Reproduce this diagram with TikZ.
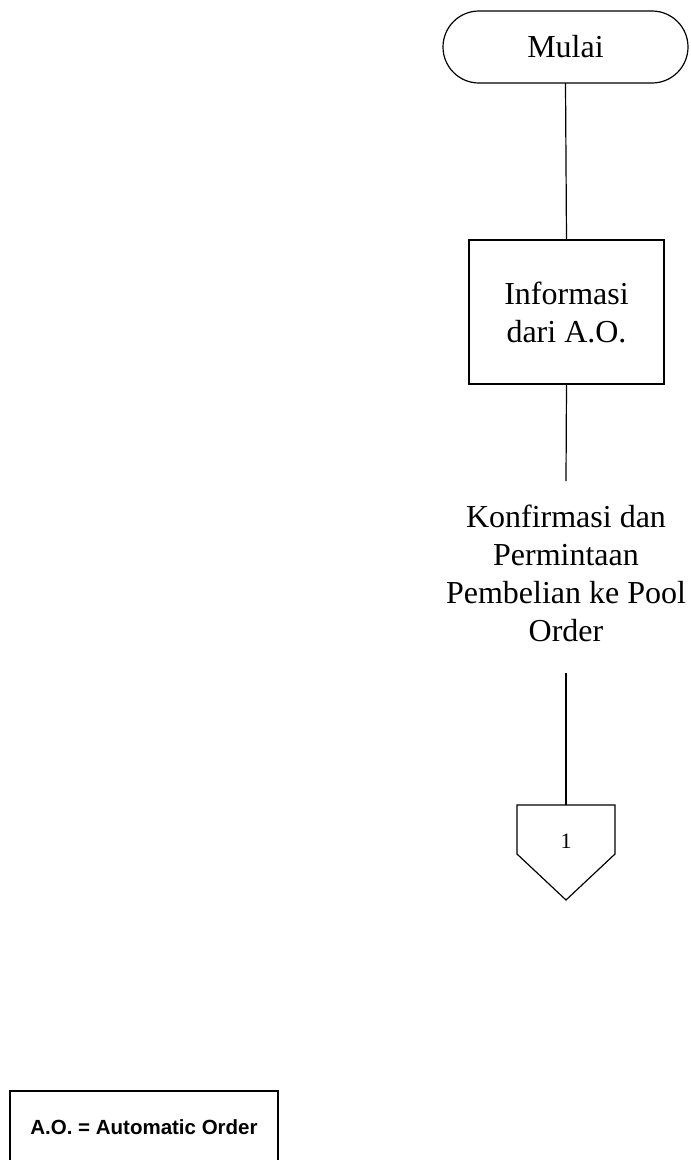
\documentclass[tikz,border=0pt]{standalone}
\usepackage{fontspec}
\setmainfont{Liberation Serif}
\newfontfamily\legendfont{Liberation Sans}
\begin{document}
\begin{tikzpicture}[x=1pt,y=-1pt,
  line width=1.2pt,
  every node/.style={inner sep=0pt, outer sep=0pt},
  flowtext/.style={font=\fontsize{32}{38}\selectfont, align=center},
  terminal/.style={draw, rounded corners=36pt, minimum width=245pt, minimum height=72pt, flowtext},
  process/.style={draw, minimum width=195pt, minimum height=144pt, flowtext},
  plaintext/.style={flowtext, minimum height=192pt},
  legendbox/.style={draw, minimum width=268pt, minimum height=73pt,
    font=\legendfont\bfseries\fontsize{20.5}{24}\selectfont}]
\useasboundingbox (0,0) rectangle (691,1160);

% flow steps
\node[terminal] (mulai) at (565.5,47) {Mulai};
\node[process] (info) at (566.5,312) {Informasi\\dari A.O.};
\node[plaintext] (konf) at (566,573) {Konfirmasi dan\\Permintaan\\Pembelian ke Pool\\Order};

% off-page connector
\draw (517,805) -- (615,805) -- (615,854) -- (566,900) -- (517,854) -- cycle;
\coordinate (ptop) at (566,805);
\node[font=\fontsize{22}{26}\selectfont] (one) at (566,841) {1};

% connectors
\draw (mulai.south) -- (info.north);
\draw (info.south) -- ([yshift=-4pt]konf.north);
\draw ([yshift=-4pt]konf.south) -- (ptop);

% legend (runs past the lower page edge)
\node[legendbox] (legend) at (144,1127.5) {A.O. = Automatic Order};
\end{tikzpicture}
\end{document}
